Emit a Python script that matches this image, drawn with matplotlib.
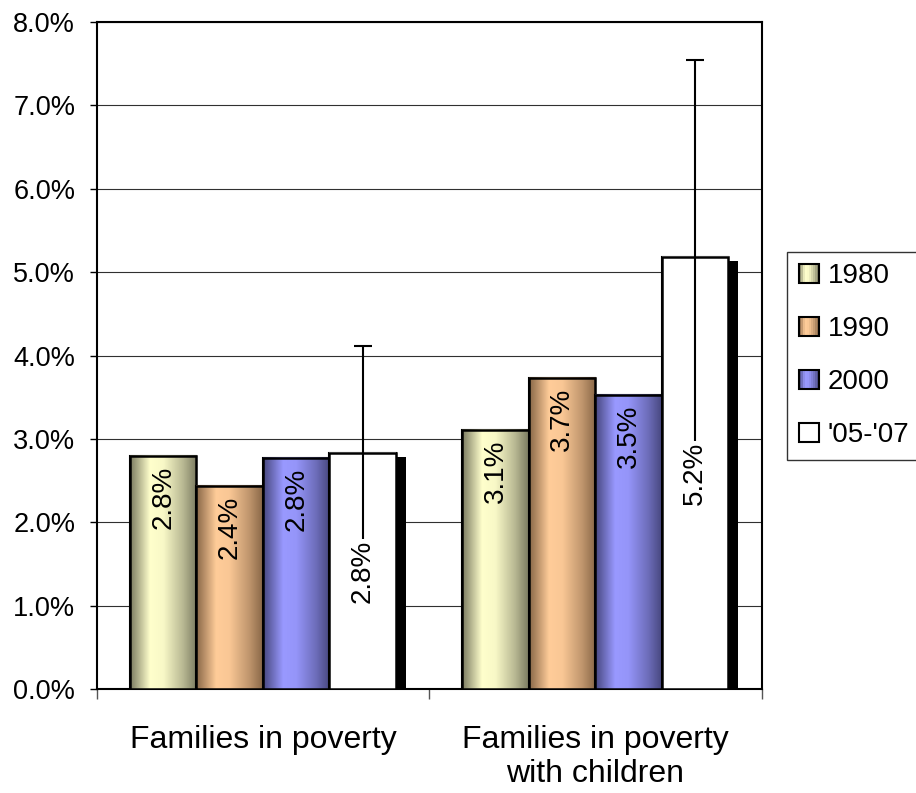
import numpy as np
import matplotlib
matplotlib.use('Agg')
import matplotlib.pyplot as plt
import matplotlib.patheffects as pe
from matplotlib.patches import Patch, Rectangle
from matplotlib.legend_handler import HandlerBase
from matplotlib.ticker import FixedLocator, FuncFormatter

plt.rcParams['font.family'] = ['Liberation Sans', 'DejaVu Sans']

categories = ['Families in poverty', 'Families in poverty\nwith children']
series = ['1980', '1990', '2000', "'05-'07"]
v1980 = [2.80, 3.11]
v1990 = [2.44, 3.73]
v2000 = [2.77, 3.53]
v0507 = [2.83, 5.18]
err0507 = [1.28, 2.37]
yticks = [0, 1, 2, 3, 4, 5, 6, 7, 8]

values = [v1980, v1990, v2000, v0507]
# (dark edge colour, light centre colour) for the cylinder-like shading
shades = [('#7c7c62', '#ffffcc'),
          ('#8a6848', '#ffcc99'),
          ('#484880', '#9999ff'),
          ('#ffffff', '#ffffff')]


def gradient_colors(dark, light, n=100):
    d = np.array(matplotlib.colors.to_rgb(dark))
    l = np.array(matplotlib.colors.to_rgb(light))
    t = np.linspace(0, 1, n)
    b = np.interp(t, [0, 0.08, 0.3, 0.5, 0.8, 1.0],
                  [0.0, 0.25, 1.0, 0.95, 0.45, 0.0])[:, None]
    return d + (l - d) * b


class GradientHandler(HandlerBase):
    def create_artists(self, legend, orig_handle, xdescent, ydescent,
                       width, height, fontsize, trans):
        cols = orig_handle.grad
        n = 10
        w = width / n
        arts = []
        for k in range(n):
            c = cols[int((k + 0.5) / n * len(cols))]
            arts.append(Rectangle((-xdescent + k * w, -ydescent), w, height,
                                  facecolor=c, edgecolor='none', transform=trans))
        arts.append(Rectangle((-xdescent, -ydescent), width, height,
                              facecolor='none', edgecolor='black', lw=1.5,
                              transform=trans))
        return arts


fig = plt.figure(figsize=(9.16, 7.93), dpi=100)
ax = fig.add_axes([0.1056, 0.1308, 0.726, 0.8415])

x = np.arange(len(categories))
width = 0.2
shadow = [pe.SimplePatchShadow(offset=(7, -3), shadow_rgbFace='black', alpha=1.0),
          pe.Normal()]

handles = []
for i, (name, vals) in enumerate(zip(series, values)):
    pos = x + (i - 1.5) * width
    dark, light = shades[i]
    cols = gradient_colors(dark, light)
    z = 3 + i
    ax.bar(pos, vals, width, color=light, edgecolor='black', linewidth=1.5,
           zorder=z, path_effects=shadow if i == 3 else None)
    for p, v in zip(pos, vals):
        ax.imshow(cols[np.newaxis, :, :], extent=(p - width / 2, p + width / 2, 0, v),
                  aspect='auto', interpolation='bilinear', zorder=z + 0.3)
    ax.bar(pos, vals, width, fill=False, edgecolor='black', linewidth=1.8,
           zorder=z + 0.6)
    h = Patch(label=name)
    h.grad = cols
    handles.append(h)

    for p, v in zip(pos, vals):
        if i < 3:
            ax.annotate(f'{v:.1f}%', xy=(p, v), xytext=(0, -7),
                        textcoords='offset points', rotation=90,
                        ha='center', va='top', fontsize=20, zorder=20)

# error bars on the last series
pos_last = x + 1.5 * width
ax.errorbar(pos_last, v0507, yerr=err0507, fmt='none', ecolor='black',
            elinewidth=1.5, capsize=6.5, capthick=1.5, zorder=12)
for p, v in zip(pos_last, v0507):
    ax.text(p, v / 2, f'{v:.1f}%', rotation=90, ha='center', va='center',
            fontsize=20, zorder=20,
            bbox=dict(facecolor='white', edgecolor='none', pad=0.5))

ax.set_xlim(-0.5, 1.5)
ax.set_ylim(0, 8)
ax.set_yticks(yticks)
ax.yaxis.set_major_formatter(FuncFormatter(lambda v, _: f'{v:.1f}%'))
ax.tick_params(axis='y', labelsize=19.5, length=5, width=1, pad=10.5)
ax.grid(axis='y', color='#303030', linewidth=0.8, zorder=0)
ax.set_axisbelow(True)

ax.xaxis.set_major_locator(FixedLocator([-0.5, 0.5, 1.5]))
ax.xaxis.set_major_formatter(FuncFormatter(lambda v, _: ''))
ax.xaxis.set_minor_locator(FixedLocator(x))
ax.set_xticklabels(categories, minor=True)
ax.tick_params(axis='x', which='major', length=7, width=1, color='#555555')
ax.tick_params(axis='x', which='minor', length=0, labelsize=23, pad=25.5)

for s in ax.spines.values():
    s.set_linewidth(1.5)
    s.set_color('black')

leg = fig.legend(handles=handles, loc='upper left',
                 bbox_to_anchor=(0.859, 0.6826), bbox_transform=fig.transFigure,
                 borderaxespad=0, fontsize=20, frameon=True, fancybox=False,
                 edgecolor='black', handlelength=0.75, handleheight=0.65,
                 handletextpad=0.3, labelspacing=0.97, borderpad=0.42,
                 handler_map={Patch: GradientHandler()})
leg.get_frame().set_linewidth(1.0)

fig.savefig('out.png', dpi=100)
